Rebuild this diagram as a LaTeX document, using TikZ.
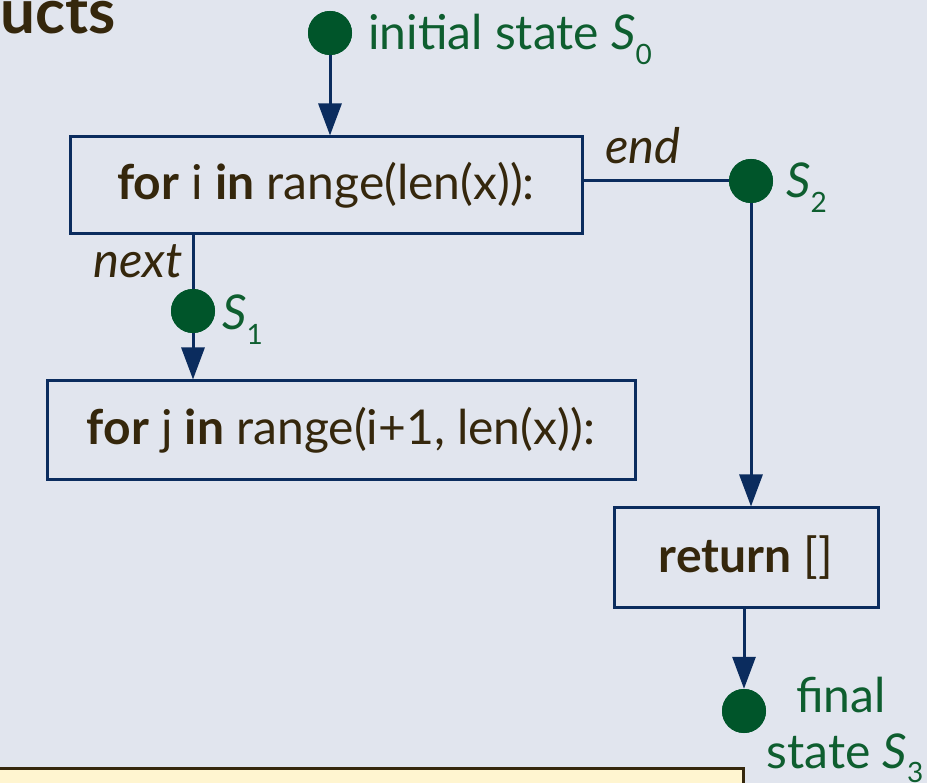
\documentclass[tikz,border=0pt]{standalone}
\usepackage{fontspec}
\setmainfont{Lato}
\usetikzlibrary{arrows.meta}
\definecolor{bg}{HTML}{E1E5EE}
\definecolor{navy}{HTML}{0B2C5E}
\definecolor{dotgreen}{HTML}{00552A}
\definecolor{labgreen}{HTML}{0E5E2F}
\definecolor{inkbrown}{HTML}{35270C}
\definecolor{notefill}{HTML}{FFF5D0}
% state name with a lowered subscript
\newcommand\stname[1]{\textit{S}\raisebox{-0.3em}{\fontsize{28}{28}\selectfont #1}}
\begin{document}
\begin{tikzpicture}[x=1pt,y=-1pt,
  every node/.style={font=\fontsize{48}{56}\selectfont},
  codebox/.style={draw=navy, line width=3pt, inner sep=0pt, text=inkbrown},
  statedot/.style={circle, fill=dotgreen, minimum size=44pt, inner sep=0pt},
  statelabel/.style={text=labgreen, inner sep=0pt},
  edgelabel/.style={text=inkbrown, font=\fontsize{49}{56}\selectfont\itshape, inner sep=0pt},
  flow/.style={draw=navy, line width=3pt},
  flowarrow/.style={flow, -{Triangle[length=32pt,width=23pt]}}]
  % canvas
  \fill[bg] (0,0) rectangle (927,783);
  \useasboundingbox (0,0) rectangle (927,783);

  % heading fragment
  \node[text=inkbrown, font=\fontsize{62}{66}\selectfont\bfseries, anchor=base east, inner sep=0pt] (title) at (116,34) {ucts};

  % states
  \node[statedot] (s0) at (330,33) {};
  \node[statedot] (s1) at (193,311) {};
  \node[statedot] (s2) at (751,181) {};
  \node[statedot] (s3) at (744,711) {};

  % code blocks
  \node[codebox, minimum width=512pt, minimum height=97pt] (b1) at (326,185.5) {\textbf{for} i \textbf{in} range(len(x)):};
  \node[codebox, minimum width=588pt, minimum height=99pt] (b2) at (341,430.5) {\textbf{for} j \textbf{in} range(i+1, len(x)):};
  \node[codebox, minimum width=264pt, minimum height=99pt] (b3) at (746,557.5) {\textbf{return} []};

  % state labels
  \node[statelabel, anchor=base west] (l0) at (368,50) {initial state \stname{0}};
  \node[statelabel, anchor=base west] (l1) at (222,330) {\stname{1}};
  \node[statelabel, anchor=base west] (l2) at (786,198) {\stname{2}};
  \node[statelabel, anchor=base] (l3a) at (841,712) {final};
  \node[statelabel, anchor=base] (l3b) at (845,768) {state \stname{3}};

  % connectors
  \draw[flowarrow] (s0) -- (s0 |- b1.north);
  \draw[flow] (b1.south -| s1) -- (s1);
  \draw[flowarrow] (s1) -- (s1 |- b2.north);
  \draw[flow] (b1.east |- s2) -- (s2);
  \draw[flowarrow] (s2) -- (s2 |- b3.north);
  \draw[flowarrow] (b3.south -| s3) -- (s3.north);
  \fill[dotgreen] (s0) circle (22pt) (s1) circle (22pt) (s2) circle (22pt) (s3) circle (22pt);

  % edge labels
  \node[edgelabel, anchor=base east] (nx) at (183,278) {next};
  \node[edgelabel, anchor=base] (en) at (643,164) {end};

  % note box along the bottom edge
  \node[draw=inkbrown, fill=notefill, line width=3pt, minimum width=760pt, minimum height=40pt, inner sep=0pt, anchor=north east] (note) at (745,767) {};
\end{tikzpicture}
\end{document}
